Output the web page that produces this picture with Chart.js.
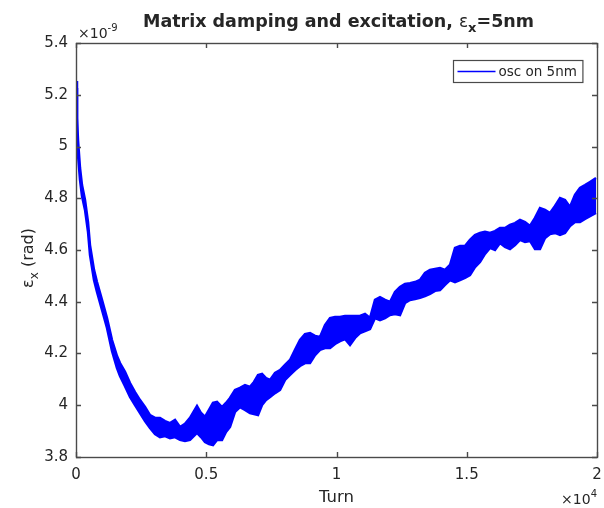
<!DOCTYPE html>
<html lang="en">
<head>
<meta charset="UTF-8" />
<title>Matrix damping and excitation</title>
<script src="https://cdn.jsdelivr.net/npm/chart.js"></script>
<style>
  body { margin: 0; background: #fff; }
  #wrap { width: 604px; height: 508px; }
</style>
</head>
<body>
<div id="wrap"><canvas id="emitChart"></canvas></div>
<script>
// turn number and upper/lower edge of the oscillating emittance band (units of 1e-9 rad)
const turns = [0, 38, 77, 154, 230, 346, 461, 537, 691, 806,
  998, 1190, 1382, 1574, 1689, 1881, 2073, 2265, 2457, 2649,
  2841, 3033, 3225, 3417, 3609, 3801, 3993, 4184, 4376, 4645,
  4799, 4952, 5106, 5259, 5413, 5605, 5758, 5912, 6104, 6296,
  6488, 6680, 6833, 6987, 7141, 7294, 7448, 7640, 7832, 8024,
  8216, 8407, 8599, 8791, 8983, 9175, 9367, 9559, 9751, 9943,
  10135, 10326, 10518, 10710, 10902, 11094, 11286, 11478, 11670, 11862,
  12053, 12245, 12437, 12629, 12821, 13013, 13205, 13397, 13589, 13781,
  13973, 14165, 14357, 14549, 14740, 14932, 15124, 15316, 15508, 15700,
  15892, 16084, 16276, 16468, 16660, 16852, 17044, 17236, 17428, 17620,
  17812, 18004, 18196, 18388, 18580, 18771, 18963, 19155, 19347, 19539,
  19731, 19962];
const emitUpper = [5.253, 5.110, 5.025, 4.917, 4.851, 4.793, 4.708, 4.619, 4.523, 4.476,
  4.407, 4.337, 4.252, 4.190, 4.163, 4.129, 4.086, 4.051, 4.020, 3.993,
  3.962, 3.951, 3.951, 3.939, 3.931, 3.943, 3.916, 3.928, 3.951, 3.997,
  3.970, 3.955, 3.982, 4.009, 4.013, 3.993, 4.009, 4.028, 4.059, 4.067,
  4.078, 4.071, 4.090, 4.117, 4.121, 4.105, 4.098, 4.125, 4.136, 4.156,
  4.175, 4.214, 4.252, 4.275, 4.279, 4.268, 4.264, 4.310, 4.337, 4.341,
  4.341, 4.345, 4.345, 4.345, 4.345, 4.353, 4.337, 4.407, 4.418, 4.407,
  4.399, 4.438, 4.457, 4.469, 4.472, 4.476, 4.484, 4.511, 4.523, 4.527,
  4.530, 4.523, 4.542, 4.608, 4.615, 4.615, 4.639, 4.658, 4.666, 4.670,
  4.666, 4.673, 4.685, 4.685, 4.697, 4.704, 4.716, 4.708, 4.693, 4.724,
  4.762, 4.755, 4.743, 4.770, 4.801, 4.793, 4.766, 4.813, 4.840, 4.851,
  4.863, 4.878];
const emitLower = [5.226, 5.044, 4.967, 4.871, 4.809, 4.755, 4.670, 4.581, 4.484, 4.438,
  4.368, 4.299, 4.210, 4.144, 4.113, 4.074, 4.032, 4.001, 3.970, 3.939,
  3.912, 3.889, 3.877, 3.881, 3.873, 3.877, 3.866, 3.862, 3.866, 3.893,
  3.877, 3.858, 3.850, 3.846, 3.866, 3.866, 3.897, 3.916, 3.974, 3.993,
  3.982, 3.970, 3.966, 3.962, 4.001, 4.020, 4.032, 4.047, 4.059, 4.098,
  4.117, 4.136, 4.152, 4.163, 4.163, 4.194, 4.214, 4.221, 4.221, 4.237,
  4.248, 4.256, 4.233, 4.260, 4.279, 4.287, 4.295, 4.337, 4.329, 4.337,
  4.349, 4.353, 4.349, 4.395, 4.407, 4.411, 4.415, 4.422, 4.430, 4.442,
  4.445, 4.465, 4.484, 4.476, 4.484, 4.492, 4.503, 4.534, 4.554, 4.585,
  4.608, 4.600, 4.627, 4.612, 4.604, 4.619, 4.639, 4.631, 4.635, 4.604,
  4.604, 4.646, 4.662, 4.666, 4.658, 4.666, 4.693, 4.708, 4.708, 4.720,
  4.731, 4.743];

const xTicks = [0, 5000, 10000, 15000, 20000];
const yTicks = [3.8, 4.0, 4.2, 4.4, 4.6, 4.8, 5.0, 5.2, 5.4];

const INK = '#262626';
const AXIS = '#4a4a4a';
const FONT = '"DejaVu Sans", sans-serif';
const BLUE = '#0000ff';

// draw a run of text pieces (for sub/superscripts), aligned left/center/right at x
function richText(ctx, parts, x, y, align) {
  let total = 0;
  parts.forEach(p => { ctx.font = p.font; p.w = ctx.measureText(p.text).width; total += p.w; });
  let cx = align === 'center' ? x - total / 2 : align === 'right' ? x - total : x;
  ctx.textAlign = 'left';
  ctx.textBaseline = 'alphabetic';
  parts.forEach(p => { ctx.font = p.font; ctx.fillText(p.text, cx, y + (p.dy || 0)); cx += p.w; });
}

const matlabAxes = {
  id: 'matlabAxes',
  afterDatasetsDraw(chart) {
    const { ctx, chartArea: a, scales: { x, y } } = chart;
    ctx.save();
    ctx.strokeStyle = AXIS;
    ctx.lineWidth = 1.4;

    // inward ticks on all four sides
    ctx.beginPath();
    x.ticks.forEach(t => {
      const px = Math.round(x.getPixelForValue(t.value)) + 0.5;
      ctx.moveTo(px, a.bottom); ctx.lineTo(px, a.bottom - 5);
      ctx.moveTo(px, a.top); ctx.lineTo(px, a.top + 5);
    });
    y.ticks.forEach(t => {
      const py = Math.round(y.getPixelForValue(t.value)) + 0.5;
      ctx.moveTo(a.left, py); ctx.lineTo(a.left + 5, py);
      ctx.moveTo(a.right, py); ctx.lineTo(a.right - 5, py);
    });
    ctx.stroke();
    ctx.strokeRect(Math.round(a.left) + 0.5, Math.round(a.top) + 0.5,
      Math.round(a.right - a.left), Math.round(a.bottom - a.top));

    ctx.fillStyle = INK;
    const mid = (a.left + a.right) / 2;

    // title
    richText(ctx, [
      { text: 'Matrix damping and excitation, ', font: 'bold 17.5px ' + FONT },
      { text: 'ε', font: '17px ' + FONT },
      { text: 'x', font: 'bold 13px ' + FONT, dy: 5 },
      { text: '=5nm', font: 'bold 17.5px ' + FONT }
    ], mid + 2, 27, 'center');

    // axis labels
    richText(ctx, [{ text: 'Turn', font: '16.5px ' + FONT }], mid, 502, 'center');
    ctx.save();
    ctx.translate(33, 258);
    ctx.rotate(-Math.PI / 2);
    richText(ctx, [
      { text: 'ε', font: '16px ' + FONT },
      { text: 'x', font: '12px ' + FONT, dy: 5 },
      { text: ' (rad)', font: '16px ' + FONT }
    ], 0, 0, 'center');
    ctx.restore();

    // exponent markers
    richText(ctx, [
      { text: '×10', font: '14px ' + FONT },
      { text: '-9', font: '10px ' + FONT, dy: -7 }
    ], a.left + 2, a.top - 5, 'left');
    richText(ctx, [
      { text: '×10', font: '14px ' + FONT },
      { text: '4', font: '10px ' + FONT, dy: -7 }
    ], a.right, 504, 'right');

    // legend
    const label = chart.data.datasets[0].label;
    ctx.font = '13.5px ' + FONT;
    const tw = ctx.measureText(label).width;
    const boxW = 4 + 38 + 3 + tw + 6, boxH = 22;
    const bx = Math.round(a.right - 15 - boxW) + 0.5, by = Math.round(a.top + 17) + 0.5;
    ctx.fillStyle = '#fff';
    ctx.fillRect(bx, by, boxW, boxH);
    ctx.strokeStyle = AXIS;
    ctx.lineWidth = 1.2;
    ctx.strokeRect(bx, by, boxW, boxH);
    ctx.strokeStyle = BLUE;
    ctx.lineWidth = 1.3;
    ctx.beginPath();
    ctx.moveTo(bx + 4, by + boxH / 2);
    ctx.lineTo(bx + 42, by + boxH / 2);
    ctx.stroke();
    ctx.fillStyle = INK;
    ctx.textBaseline = 'middle';
    ctx.fillText(label, bx + 45, by + boxH / 2 + 1);
    ctx.restore();
  }
};

const upperPts = turns.map((t, i) => ({ x: t, y: emitUpper[i] }));
const lowerPts = turns.map((t, i) => ({ x: t, y: emitLower[i] }));

new Chart(document.getElementById('emitChart'), {
  type: 'line',
  data: {
    datasets: [
      {
        label: 'osc on 5nm',
        data: upperPts,
        borderColor: BLUE,
        backgroundColor: BLUE,
        borderWidth: 2.5,
        pointRadius: 0,
        tension: 0,
        fill: '+1'
      },
      {
        label: 'lower edge',
        data: lowerPts,
        borderColor: BLUE,
        borderWidth: 2.5,
        pointRadius: 0,
        tension: 0,
        fill: false
      }
    ]
  },
  options: {
    responsive: true,
    maintainAspectRatio: false,
    animation: false,
    layout: { padding: { left: 0, top: 43, right: 7, bottom: 0 } },
    plugins: {
      legend: { display: false },
      title: { display: false },
      tooltip: { enabled: false }
    },
    scales: {
      x: {
        type: 'linear',
        min: 0,
        max: 20000,
        afterBuildTicks: s => { s.ticks = xTicks.map(v => ({ value: v })); },
        afterFit: s => { s.height = 51; },
        // tick marks are drawn inward by the plugin; tickLength only offsets the labels
        grid: { display: false, drawTicks: true, tickLength: 9 },
        border: { display: false },
        ticks: {
          color: INK,
          font: { family: FONT, size: 15 },
          padding: 0,
          maxRotation: 0,
          autoSkip: false,
          callback: v => String(v / 10000)
        }
      },
      y: {
        min: 3.8,
        max: 5.4,
        afterBuildTicks: s => { s.ticks = yTicks.map(v => ({ value: v })); },
        afterFit: s => { s.width = 76; },
        grid: { display: false, drawTicks: true, tickLength: 8 },
        border: { display: false },
        ticks: {
          color: INK,
          font: { family: FONT, size: 15 },
          padding: 0,
          autoSkip: false,
          callback: v => String(+v.toFixed(1))
        }
      }
    }
  },
  plugins: [matlabAxes]
});
</script>
</body>
</html>
